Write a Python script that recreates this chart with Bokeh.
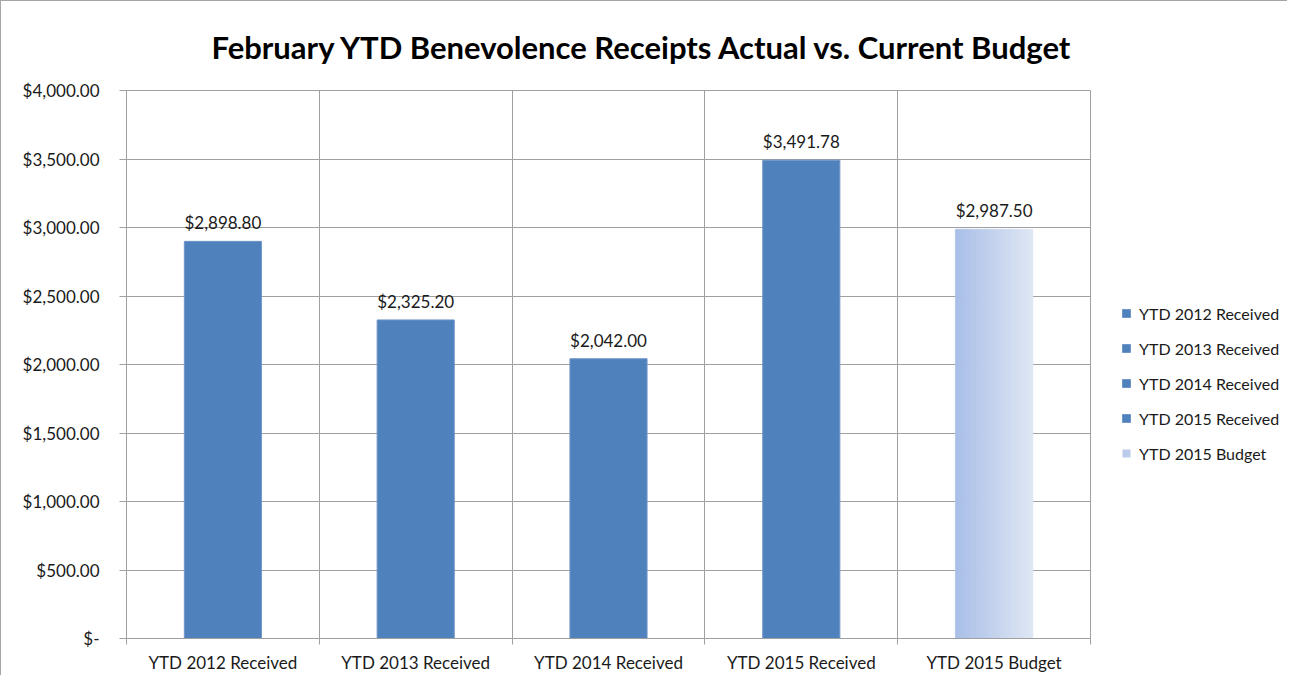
from bokeh.plotting import figure
from bokeh.models import (ColumnDataSource, Range1d, FixedTicker, Legend, LegendItem,
                          LabelSet)
from bokeh.layouts import row
from bokeh.core.properties import value
from bokeh.embed import file_html
from bokeh.resources import INLINE

# ---- data ----
categories = ["YTD 2012 Received", "YTD 2013 Received", "YTD 2014 Received",
              "YTD 2015 Received", "YTD 2015 Budget"]
values = [2898.80, 2325.20, 2042.00, 3491.78, 2987.50]
value_labels = ["$2,898.80", "$2,325.20", "$2,042.00", "$3,491.78", "$2,987.50"]
ytick_values = [0, 500, 1000, 1500, 2000, 2500, 3000, 3500, 4000]
ytick_labels = ["$-", "$500.00", "$1,000.00", "$1,500.00", "$2,000.00",
                "$2,500.00", "$3,000.00", "$3,500.00", "$4,000.00"]
title_text = "February YTD Benevolence Receipts Actual vs. Current Budget"

FONT = "Lato"
FS = "17px"
TXT = "#1A1A1A"
BAR = "#4F81BD"
GRID = "#A0A0A0"
BAR_W = 0.4
H = 674

n = len(categories)
centers = [i + 0.5 for i in range(n)]
bounds = list(range(n + 1))

p = figure(width=1090, height=H, output_backend="svg", toolbar_location=None,
           x_range=Range1d(0, n), y_range=Range1d(ytick_values[0], ytick_values[-1]),
           min_border_left=125, min_border_top=28, min_border_bottom=30,
           min_border_right=1)
p.background_fill_color = "white"
p.border_fill_color = "white"
p.outline_line_color = GRID

p.title.text = title_text
p.title.align = "left"
p.title.offset = 85
p.title.text_font = FONT
p.title.text_font_style = "bold"
p.title.text_font_size = "31px"
p.title.text_color = "black"
p.title.standoff = 49

# received bars (solid)
recv_idx = [i for i, c in enumerate(categories) if "Received" in c]
src_recv = ColumnDataSource(dict(x=[centers[i] for i in recv_idx],
                                 top=[values[i] for i in recv_idx]))
r_recv = p.vbar(x="x", top="top", bottom=0, width=BAR_W, source=src_recv,
                fill_color=BAR, line_color="#6F95C8", line_width=1)

# budget bar with horizontal gradient made of thin strips
bi = categories.index("YTD 2015 Budget")
nstrip = 26
c0 = (0xA9, 0xBF, 0xE7)
c1 = (0xDE, 0xE6, 0xF4)
sw = BAR_W / nstrip
xs, cols = [], []
for k in range(nstrip):
    t = k / (nstrip - 1)
    rgb = tuple(int(round(a + (b - a) * t)) for a, b in zip(c0, c1))
    cols.append("#%02X%02X%02X" % rgb)
    xs.append(centers[bi] - BAR_W / 2 + sw * (k + 0.5))
src_bud = ColumnDataSource(dict(x=xs, top=[values[bi]] * nstrip, c=cols))
r_bud = p.vbar(x="x", top="top", bottom=0, width=sw * 1.15, source=src_bud,
               fill_color="c", line_color="c", line_width=0.5)

# value labels
src_lab = ColumnDataSource(dict(x=centers, y=values, t=value_labels))
p.add_layout(LabelSet(x="x", y="y", text="t", source=src_lab, text_align="center",
                      text_baseline="bottom", y_offset=8, text_font=value(FONT),
                      text_font_size=FS, text_color=TXT))

# axes
yax = p.yaxis[0]
yax.ticker = FixedTicker(ticks=ytick_values)
yax.major_label_overrides = {v: l for v, l in zip(ytick_values, ytick_labels)}
yax.major_tick_out = 7
yax.major_tick_in = 0
yax.minor_tick_out = 0
yax.minor_tick_in = 0
yax.axis_line_color = GRID
yax.major_tick_line_color = GRID
yax.major_label_standoff = 20
yax.major_label_text_font = FONT
yax.major_label_text_font_size = FS
yax.major_label_text_color = TXT

xax = p.xaxis[0]
xax.ticker = FixedTicker(ticks=centers, minor_ticks=bounds)
xax.major_label_overrides = {c: l for c, l in zip(centers, categories)}
xax.major_tick_out = 0
xax.major_tick_in = 0
xax.minor_tick_out = 6
xax.minor_tick_in = 0
xax.minor_tick_line_color = GRID
xax.axis_line_color = GRID
xax.major_label_standoff = 7
xax.major_label_text_font = FONT
xax.major_label_text_font_size = FS
xax.major_label_text_color = TXT

p.xgrid.ticker = FixedTicker(ticks=bounds)
p.xgrid.grid_line_color = GRID
p.ygrid.grid_line_color = GRID

# legend figure to the right
lg = figure(width=196, height=H, output_backend="svg", toolbar_location=None,
            x_range=Range1d(0, 1), y_range=Range1d(0, 1),
            min_border=0, x_axis_type=None, y_axis_type=None)
lg.outline_line_color = None
lg.grid.visible = False
lr_recv = lg.vbar(x="x", top="top", bottom=0, width=BAR_W, source=src_recv,
                  fill_color=BAR, line_color="#6F95C8", line_width=1, visible=False)
lr_bud = lg.vbar(x="x", top="top", bottom=0, width=sw, source=src_bud,
                 fill_color="c", line_color=None, visible=False)
items = []
for j, i in enumerate(recv_idx):
    items.append(LegendItem(label=categories[i], renderers=[lr_recv], index=j))
items.append(LegendItem(label=categories[bi], renderers=[lr_bud], index=nstrip // 3))
legend = Legend(items=items, location=(30, 175), glyph_width=10, glyph_height=10,
                label_standoff=8, label_height=20, spacing=15, padding=0, margin=0,
                label_text_font=FONT, label_text_font_size="16px",
                label_text_color=TXT, border_line_color=None,
                background_fill_alpha=0, inactive_fill_alpha=0)
lg.add_layout(legend, "center")

layout = row(p, lg)
layout.styles = {"border-left": "1px solid #A6A6A6", "border-top": "1px solid #A6A6A6"}

open("out.html", "w").write(file_html(layout, INLINE))
